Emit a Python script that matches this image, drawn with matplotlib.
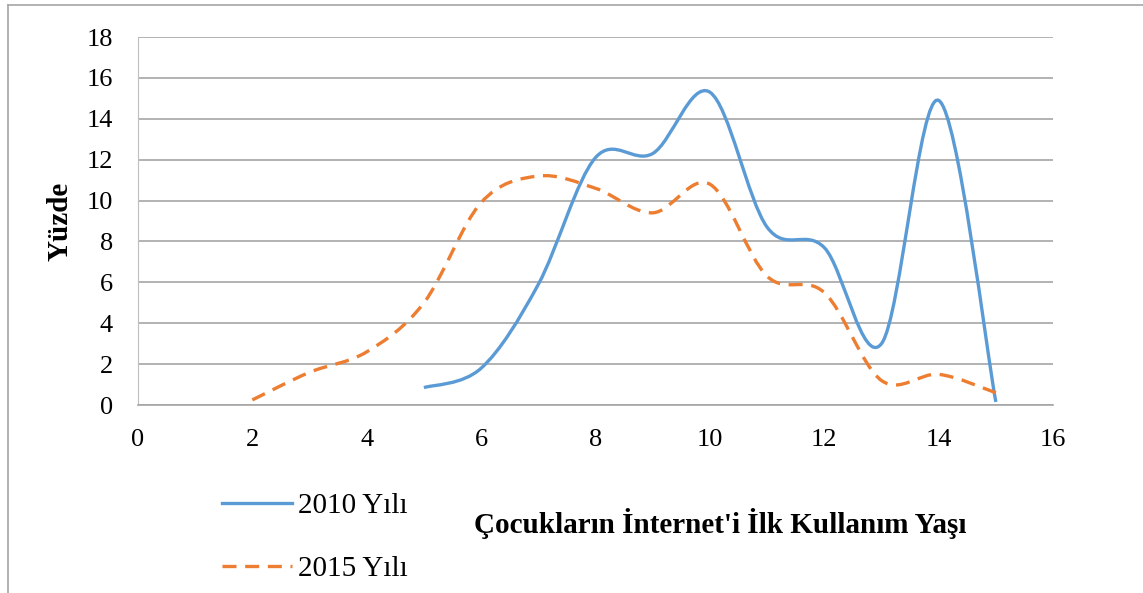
import matplotlib.pyplot as plt
from matplotlib.path import Path
from matplotlib.patches import PathPatch
from matplotlib.lines import Line2D

# data
ages_2010 = [5, 6, 7, 8, 9, 10, 11, 12, 13, 14, 15]
pct_2010 = [0.85, 1.8, 5.9, 12.1, 12.3, 15.3, 8.7, 7.7, 3.0, 14.9, 0.15]
ages_2015 = [2, 3, 4, 5, 6, 7, 8, 9, 10, 11, 12, 13, 14, 15]
pct_2015 = [0.25, 1.6, 2.6, 5.0, 9.9, 11.2, 10.6, 9.4, 10.8, 6.3, 5.5, 1.2, 1.5, 0.6]

x_ticks = list(range(0, 17, 2))
y_ticks = list(range(0, 19, 2))

BLUE = '#5B9BD5'
ORANGE = '#ED7D31'
SERIF = 'Liberation Serif'
DASH = (0, (4.2, 2.6))


def smooth_path(xs, ys):
    """Excel-like smoothed line: cubic Bezier through each point."""
    pts = list(zip(xs, ys))
    verts = [pts[0]]
    codes = [Path.MOVETO]
    n = len(pts)
    for i in range(n - 1):
        p0 = pts[i - 1] if i > 0 else pts[i]
        p1 = pts[i]
        p2 = pts[i + 1]
        p3 = pts[i + 2] if i + 2 < n else pts[i + 1]
        c1 = (p1[0] + (p2[0] - p0[0]) / 6, p1[1] + (p2[1] - p0[1]) / 6)
        c2 = (p2[0] - (p3[0] - p1[0]) / 6, p2[1] - (p3[1] - p1[1]) / 6)
        verts += [c1, c2, p2]
        codes += [Path.CURVE4] * 3
    return Path(verts, codes)


fig = plt.figure(figsize=(11.43, 5.93), dpi=100)
ax = fig.add_axes([0.1207, 0.317, 0.8006, 0.6206])

ax.set_xlim(0, 16)
ax.set_ylim(0, 18)
ax.set_xticks(x_ticks)
ax.set_yticks(y_ticks)
ax.tick_params(length=0, labelsize=19)
ax.tick_params(axis='y', pad=18)
ax.tick_params(axis='x', pad=17)
for lab in ax.get_xticklabels() + ax.get_yticklabels():
    lab.set_fontfamily(SERIF)
ax.grid(axis='y', color='#A6A6A6', linewidth=1.2)
ax.set_axisbelow(True)
for side in ['top', 'right']:
    ax.spines[side].set_visible(False)
ax.spines['left'].set_color('#BFBFBF')
ax.spines['bottom'].set_color('#A6A6A6')
ax.spines['bottom'].set_linewidth(1.2)

ax.add_patch(PathPatch(smooth_path(ages_2010, pct_2010), facecolor='none',
                       edgecolor=BLUE, linewidth=2.4, capstyle='butt', zorder=3))
ax.add_patch(PathPatch(smooth_path(ages_2015, pct_2015), facecolor='none',
                       edgecolor=ORANGE, linewidth=2.4, linestyle=DASH,
                       capstyle='butt', zorder=3))

ax.set_ylabel('Yüzde', fontsize=21, fontweight='bold', fontfamily=SERIF)
ax.yaxis.set_label_coords(-0.070, 0.5)

fig.text(0.63, 0.118, "Çocukların İnternet'i İlk Kullanım Yaşı", fontsize=21,
         fontweight='bold', fontfamily=SERIF, ha='center', va='center')

handles = [Line2D([], [], color=BLUE, linewidth=2.4),
           Line2D([], [], color=ORANGE, linewidth=2.4, linestyle=DASH)]
fig.legend(handles, ['2010 Yılı', '2015 Yılı'], loc='center left',
           bbox_to_anchor=(0.1942, 0.094), frameon=False, handlelength=2.4,
           labelspacing=1.25, handletextpad=0.2, borderpad=0, borderaxespad=0,
           prop={'family': SERIF, 'size': 21})

# outer chart frame (only top and left edges are visible)
fig.add_artist(Line2D([0.007, 0.007], [0, 0.992], color='#A6A6A6', linewidth=1.2))
fig.add_artist(Line2D([0.007, 1.0], [0.992, 0.992], color='#A6A6A6', linewidth=1.2))

fig.savefig('out.png', dpi=100)
